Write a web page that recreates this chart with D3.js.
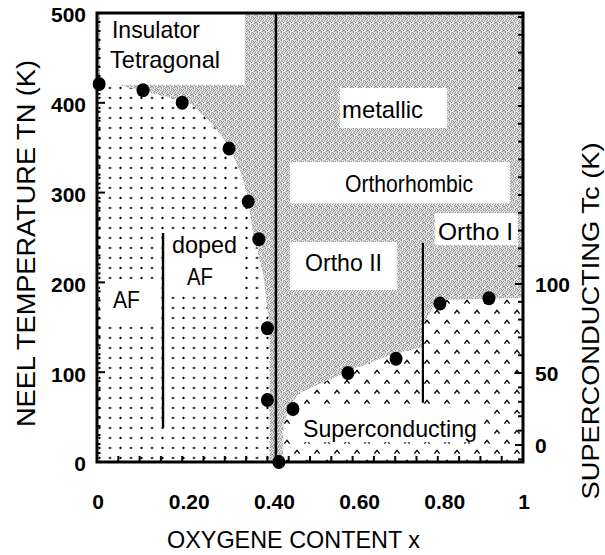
<!DOCTYPE html>
<html>
<head>
<meta charset="utf-8">
<script src="https://cdn.jsdelivr.net/npm/d3@7"></script>
<style>
  body { margin: 0; background: #fff; }
  text { font-family: "Liberation Sans", Arial, Helvetica, sans-serif; fill: #000; }
</style>
</head>
<body>
<svg id="chart" width="605" height="555"></svg>
<script>
// Néel temperature of the antiferromagnet (oxygen content x, TN in K)
const neelX = [0.005, 0.108, 0.20, 0.31, 0.355, 0.38, 0.40, 0.40, 0.427];
const neelT = [421, 414, 400, 349, 290, 248, 149, 69, 0];

// Superconducting transition temperature (x, Tc in K, right axis)
const tcX = [0.46, 0.589, 0.702, 0.805, 0.92];
const tcT = [25, 50, 58, 89, 92];

// Edge of the antiferromagnetic (dotted) phase, in x and TN
const afEdgeX = [0, 0.05, 0.117, 0.218, 0.27, 0.31, 0.335, 0.352, 0.366, 0.39, 0.405, 0.405, 0];
const afEdgeT = [420, 420, 412, 400, 377, 351, 325, 300, 255, 210, 150, 0, 0];

// Edge of the superconducting (hatched) phase, in x and TN-axis kelvin
const scEdgeX = [0.437, 0.437, 0.453, 0.476, 0.61, 0.688, 0.765, 0.765, 0.798, 1, 1];
const scEdgeT = [0, 40, 63, 77, 105, 119, 128, 152, 180, 183, 0];

// Axis ticks and labels
const xTicks = [0, 0.2, 0.4, 0.6, 0.8, 1];
const xTickLabels = ["0", "0.20", "0.40", "0.60", "0.80", "1"];
const yTicks = [0, 100, 200, 300, 400, 500];
const tcTicks = [0, 50, 100];

// Phase boundaries drawn as lines (x, TN from, TN to)
const mainBoundaryX = 0.42;
const dopedLineX = 0.155, dopedLineT = [38, 255];
const orthoLineX = 0.765, orthoLineT = [66, 244];

const svg = d3.select("#chart");
const x = d3.scaleLinear().domain([0, 1]).range([97, 523]);
const y = d3.scaleLinear().domain([0, 500]).range([462, 13]);
const yTc = d3.scaleLinear().domain([0, 50, 100]).range([445, 373, 284]);

const defs = svg.append("defs");

// Halftone grey texture of the metallic / orthorhombic field
const tile = [
  "01201020",
  "20012101",
  "10210012",
  "02102100",
  "21001021",
  "00120210",
  "12010201",
  "01202010"
];
const greyPat = defs.append("pattern").attr("id", "grey")
  .attr("patternUnits", "userSpaceOnUse").attr("width", 8).attr("height", 8);
greyPat.append("rect").attr("width", 8).attr("height", 8).attr("fill", "#d2d2d2");
tile.forEach((row, j) => row.split("").forEach((c, i) => {
  if (c === "0") return;
  greyPat.append("rect").attr("x", i).attr("y", j).attr("width", 1).attr("height", 1)
    .attr("fill", c === "1" ? "#959595" : "#f4f4f4");
}));

// Dot screen of the AF phase
const dotPat = defs.append("pattern").attr("id", "dots")
  .attr("patternUnits", "userSpaceOnUse").attr("width", 10.5).attr("height", 10)
  .attr("x", 104.75).attr("y", 353);
dotPat.append("rect").attr("width", 10.5).attr("height", 10).attr("fill", "#fff");
dotPat.append("circle").attr("cx", 5.25).attr("cy", 5).attr("r", 1.15).attr("fill", "#000");

// Caret hatching of the superconducting phase
const caretPat = defs.append("pattern").attr("id", "carets")
  .attr("patternUnits", "userSpaceOnUse").attr("width", 20).attr("height", 20)
  .attr("x", 442).attr("y", 337);
caretPat.append("rect").attr("width", 20).attr("height", 20).attr("fill", "#fff");
[[5, 5], [15, 15]].forEach(([cx, cy]) => {
  caretPat.append("path")
    .attr("d", `M${cx - 2.6},${cy + 1.6}L${cx},${cy - 1.6}L${cx + 2.6},${cy + 1.6}`)
    .attr("fill", "none").attr("stroke", "#000").attr("stroke-width", 1.4);
});

defs.append("clipPath").attr("id", "plotClip")
  .append("rect").attr("x", x(0)).attr("y", y(500))
  .attr("width", x(1) - x(0)).attr("height", y(0) - y(500));

const plot = svg.append("g").attr("clip-path", "url(#plotClip)");

// grey background field
plot.append("rect").attr("x", x(0)).attr("y", y(500))
  .attr("width", x(1) - x(0)).attr("height", y(0) - y(500)).attr("fill", "url(#grey)");

// white field of the insulating tetragonal phase
const box = (x0, x1, t0, t1) => plot.append("rect")
  .attr("x", x(x0)).attr("y", y(t0)).attr("width", x(x1) - x(x0)).attr("height", y(t1) - y(t0))
  .attr("fill", "#fff");
box(0.007, 0.347, 500, 420);

// AF and superconducting phases
const area = (xs, ts, sy) => d3.line().x((d, i) => x(xs[i])).y((d, i) => sy(ts[i]))(xs) + "Z";
plot.append("path").attr("d", area(afEdgeX, afEdgeT, y)).attr("fill", "url(#dots)");
plot.append("path").attr("d", area(scEdgeX, scEdgeT, y)).attr("fill", "url(#carets)");

// label backgrounds
box(0.007, 0.148, 203, 155);   // AF
box(0.158, 0.335, 258, 191.5); // doped AF
box(0.570, 0.822, 416.5, 372); // metallic
box(0.453, 0.969, 334, 288);   // Orthorhombic
box(0.453, 0.704, 245, 191.5); // Ortho II
box(0.793, 0.988, 277, 241.6); // Ortho I
box(0.453, 0.899, 60, 22);     // Superconducting

// phase boundary lines
svg.append("line").attr("x1", x(mainBoundaryX)).attr("x2", x(mainBoundaryX))
  .attr("y1", y(500)).attr("y2", y(0)).attr("stroke", "#000").attr("stroke-width", 2.6);
svg.append("line").attr("x1", x(dopedLineX)).attr("x2", x(dopedLineX))
  .attr("y1", y(dopedLineT[1])).attr("y2", y(dopedLineT[0])).attr("stroke", "#000").attr("stroke-width", 2.4);
svg.append("line").attr("x1", x(orthoLineX)).attr("x2", x(orthoLineX))
  .attr("y1", y(orthoLineT[1])).attr("y2", y(orthoLineT[0])).attr("stroke", "#000").attr("stroke-width", 2.2);

// inward tick marks
const tickG = svg.append("g").attr("stroke", "#000");
d3.range(0, 501, 10).forEach(v => {
  const len = v % 100 === 0 ? 8 : 3.5;
  tickG.append("line").attr("x1", x(0)).attr("x2", x(0) + len)
    .attr("y1", y(v)).attr("y2", y(v)).attr("stroke-width", 2);
});
d3.range(-10, 251, 10).forEach(v => {
  const len = tcTicks.includes(v) ? 8 : 5;
  const py = yTc(v);
  if (py < y(500) + 2 || py > y(0) - 2) return;
  tickG.append("line").attr("x1", x(1)).attr("x2", x(1) - len)
    .attr("y1", py).attr("y2", py).attr("stroke-width", 2);
});
d3.range(0.05, 1, 0.05).forEach(v => {
  tickG.append("line").attr("x1", x(v)).attr("x2", x(v))
    .attr("y1", y(0)).attr("y2", y(0) - 6).attr("stroke-width", 2);
});

// frame
svg.append("rect").attr("x", x(0)).attr("y", y(500))
  .attr("width", x(1) - x(0)).attr("height", y(0) - y(500))
  .attr("fill", "none").attr("stroke", "#000").attr("stroke-width", 3);

// measured points
svg.append("g").selectAll("ellipse").data(neelX).join("ellipse")
  .attr("cx", (d) => x(d)).attr("cy", (d, i) => y(neelT[i])).attr("rx", 6.5).attr("ry", 7);
svg.append("g").selectAll("ellipse").data(tcX).join("ellipse")
  .attr("cx", (d) => x(d)).attr("cy", (d, i) => yTc(tcT[i])).attr("rx", 6.5).attr("ry", 7);

// tick labels
const leftAxis = svg.append("g").attr("transform", `translate(${x(0)},0)`)
  .call(d3.axisLeft(y).tickValues(yTicks).tickSize(0).tickPadding(11).tickFormat(d3.format("d")));
leftAxis.select(".domain").remove();
leftAxis.selectAll("text").attr("font-size", 21).attr("font-weight", "bold")
  .attr("font-family", "Liberation Sans, Arial, sans-serif").attr("dy", "0.42em");

const rightAxis = svg.append("g").attr("transform", `translate(${x(1)},0)`)
  .call(d3.axisRight(yTc).tickValues(tcTicks).tickSize(0).tickPadding(12).tickFormat(d3.format("d")));
rightAxis.select(".domain").remove();
rightAxis.selectAll("text").attr("font-size", 21).attr("font-weight", "bold")
  .attr("font-family", "Liberation Sans, Arial, sans-serif").attr("dy", "0.38em");

svg.append("g").selectAll("text").data(xTicks).join("text")
  .attr("x", d => x(d)).attr("dx", (d, i) => (i === 0 || i === xTicks.length - 1) ? 1 : 7)
  .attr("y", 509).attr("text-anchor", "middle")
  .attr("font-size", 21).attr("font-weight", "bold")
  .text((d, i) => xTickLabels[i]);

// phase labels
const label = (txt, px, py, w) => svg.append("text")
  .attr("x", px).attr("y", py).attr("font-size", 24)
  .attr("textLength", w).attr("lengthAdjust", "spacingAndGlyphs").text(txt);
label("Insulator", 112, 38, 88);
label("Tetragonal", 110, 68, 110);
label("metallic", 342, 118, 81);
label("Orthorhombic", 345, 192, 128);
label("Ortho II", 305, 271, 77);
label("Ortho I", 438, 240, 75);
label("doped", 172, 253, 65);
label("AF", 187, 285, 26);
label("AF", 113, 308, 27);
label("Superconducting", 303, 437, 174);

// axis titles
svg.append("text").attr("transform", "translate(35,243.5) rotate(-90)")
  .attr("text-anchor", "middle").attr("font-size", 25)
  .attr("textLength", 367).attr("lengthAdjust", "spacingAndGlyphs")
  .text("NEEL TEMPERATURE TN (K)");
svg.append("text").attr("transform", "translate(599,321) rotate(-90)")
  .attr("text-anchor", "middle").attr("font-size", 24)
  .attr("textLength", 357).attr("lengthAdjust", "spacingAndGlyphs")
  .text("SUPERCONDUCTING Tc (K)");
svg.append("text").attr("x", 293.5).attr("y", 548)
  .attr("text-anchor", "middle").attr("font-size", 24)
  .attr("textLength", 253).attr("lengthAdjust", "spacingAndGlyphs")
  .text("OXYGENE CONTENT x");
</script>
</body>
</html>
